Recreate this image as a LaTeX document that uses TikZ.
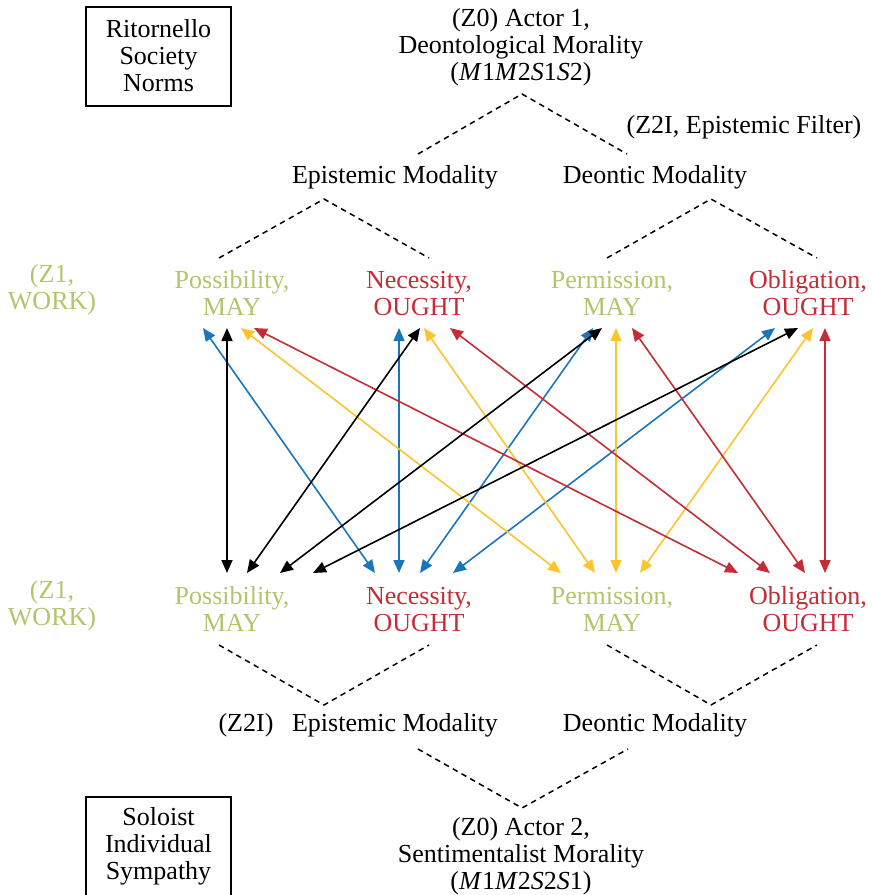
\documentclass[tikz,border=0pt]{standalone}
\usepackage{fontspec}
\setmainfont{Liberation Serif}
\usetikzlibrary{arrows.meta}
\definecolor{cgreen}{RGB}{180,196,107}
\definecolor{cred}{RGB}{196,44,54}
\definecolor{cblue}{RGB}{27,117,187}
\definecolor{cyellow}{RGB}{252,196,45}
\begin{document}
\begin{tikzpicture}[x=1pt,y=-1pt,
  lbl/.style={font=\fontsize{26}{27}\selectfont, align=center, inner sep=0pt, anchor=base},
  dashline/.style={line width=1.5pt, dash pattern=on 5.5pt off 4.5pt},
  boxline/.style={line width=1.8pt},
  conn/.style={line width=1.6pt, {Triangle[length=13pt,width=11pt]}-{Triangle[length=13pt,width=11pt]}}]
\useasboundingbox (0,0) rectangle (871,895);

% boxes (anchor = baseline of the last line)
\node (rit) [lbl] at (158.5,91) {Ritornello\\Society\\Norms};
\draw[boxline] (86,7) rectangle (231,106);
\node (solo) [lbl] at (158.5,879) {Soloist\\Individual\\Sympathy};
\draw[boxline] (86,910) |- (231,797) -- (231,910);

% titles
\node (a1) [lbl] at (521,80) {(Z0) Actor 1,\\Deontological Morality\\(\textit{M}1\textit{M}2\textit{S}1\textit{S}2)};
\node (filt) [lbl] at (744,133) {(Z2I, Epistemic Filter)};
\node (ep1) [lbl] at (395,183) {Epistemic Modality};
\node (de1) [lbl] at (655,183) {Deontic Modality};

\node (z1a) [lbl, text=cgreen] at (52,309) {(Z1,\\WORK)};
\node (pos1) [lbl, text=cgreen] at (232,315) {Possibility,\\MAY};
\node (nec1) [lbl, text=cred] at (419,315) {Necessity,\\OUGHT};
\node (per1) [lbl, text=cgreen] at (612,315) {Permission,\\MAY};
\node (obl1) [lbl, text=cred] at (808,315) {Obligation,\\OUGHT};

\node (z1b) [lbl, text=cgreen] at (52,625) {(Z1,\\WORK)};
\node (pos2) [lbl, text=cgreen] at (232,631) {Possibility,\\MAY};
\node (nec2) [lbl, text=cred] at (419,631) {Necessity,\\OUGHT};
\node (per2) [lbl, text=cgreen] at (612,631) {Permission,\\MAY};
\node (obl2) [lbl, text=cred] at (808,631) {Obligation,\\OUGHT};

\node (z2i) [lbl] at (246,731) {(Z2I)};
\node (ep2) [lbl] at (395,731) {Epistemic Modality};
\node (de2) [lbl] at (655,731) {Deontic Modality};
\node (a2) [lbl] at (521,889) {(Z0) Actor 2,\\Sentimentalist Morality\\(\textit{M}1\textit{M}2\textit{S}2\textit{S}1)};

% dashed tree lines
\coordinate (apT) at (522,94);
\coordinate (epT) at (418,154);
\coordinate (deT) at (627,154);
\coordinate (apE) at (324,199);
\coordinate (posT) at (219,258);
\coordinate (necT) at (429,258);
\coordinate (apD) at (711,199);
\coordinate (perT) at (607,258);
\coordinate (oblT) at (817,258);
\draw[dashline] (epT) -- (apT) -- (deT);
\draw[dashline] (posT) -- (apE) -- (necT);
\draw[dashline] (perT) -- (apD) -- (oblT);

\coordinate (posB) at (219,645);
\coordinate (necB) at (429,645);
\coordinate (apE2) at (324,705);
\coordinate (perB) at (607,645);
\coordinate (oblB) at (817,645);
\coordinate (apD2) at (711,705);
\coordinate (epB) at (418,749);
\coordinate (deB) at (628,749);
\coordinate (apB) at (522,808);
\draw[dashline] (posB) -- (apE2) -- (necB);
\draw[dashline] (perB) -- (apD2) -- (oblB);
\draw[dashline] (epB) -- (apB) -- (deB);

% arrow end points, top row
\coordinate (uPb) at (203,328);
\coordinate (uPk) at (227,328);
\coordinate (uPy) at (241,328);
\coordinate (uPr) at (254,328);
\coordinate (uNb) at (399,328);
\coordinate (uNk) at (420,328);
\coordinate (uNy) at (424,328);
\coordinate (uNr) at (450,328);
\coordinate (uRb) at (593,328);
\coordinate (uRk) at (602,328);
\coordinate (uRy) at (616,328);
\coordinate (uRr) at (632,328);
\coordinate (uOb) at (775,328);
\coordinate (uOk) at (798,328);
\coordinate (uOy) at (813,328);
\coordinate (uOr) at (825,328);
% bottom row
\coordinate (dP1) at (227,573);
\coordinate (dP2) at (247,573);
\coordinate (dP3) at (280,573);
\coordinate (dP4) at (313,573);
\coordinate (dN1) at (375,573);
\coordinate (dN2) at (399,573);
\coordinate (dN3) at (420,573);
\coordinate (dN4) at (453,573);
\coordinate (dR1) at (561,573);
\coordinate (dR2) at (595,573);
\coordinate (dR3) at (616,573);
\coordinate (dR4) at (640,573);
\coordinate (dO1) at (738,573);
\coordinate (dO2) at (770,573);
\coordinate (dO3) at (805,573);
\coordinate (dO4) at (825,573);

\draw[conn, cblue] (uPb) -- (dN1);
\draw[conn, cblue] (uNb) -- (dN2);
\draw[conn, cblue] (uRb) -- (dN3);
\draw[conn, cblue] (uOb) -- (dN4);

\draw[conn, cyellow] (uPy) -- (dR1);
\draw[conn, cyellow] (uNy) -- (dR2);
\draw[conn, cyellow] (uRy) -- (dR3);
\draw[conn, cyellow] (uOy) -- (dR4);

\draw[conn, cred] (uPr) -- (dO1);
\draw[conn, cred] (uNr) -- (dO2);
\draw[conn, cred] (uRr) -- (dO3);
\draw[conn, cred] (uOr) -- (dO4);

\draw[conn, black] (uPk) -- (dP1);
\draw[conn, black] (uNk) -- (dP2);
\draw[conn, black] (uRk) -- (dP3);
\draw[conn, black] (uOk) -- (dP4);
\end{tikzpicture}
\end{document}
